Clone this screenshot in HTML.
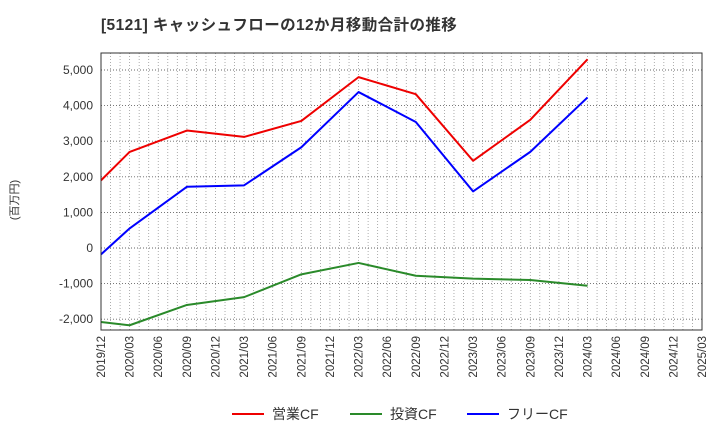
<!DOCTYPE html>
<html><head><meta charset="utf-8"><style>
body{margin:0;background:#fff;}
svg text{font-family:"Liberation Sans","Noto Sans CJK JP",sans-serif;}
</style></head><body>
<svg width="720" height="440" xmlns="http://www.w3.org/2000/svg">
<text x="101" y="30" font-size="15.5" font-weight="bold" fill="#333" letter-spacing="0.4">[5121]  キャッシュフローの12か月移動合計の推移</text>
<text transform="translate(18,200) rotate(-90)" font-size="11" fill="#333" text-anchor="middle">(百万円)</text>
<g id="grid"></g>
<g id="axes"></g>
<g id="series"></g>
<rect x="101" y="53" width="601" height="277" fill="none" stroke="#333" stroke-width="1"/>
<g>
<g><line x1="232" y1="414" x2="264" y2="414" stroke="#e00" stroke-width="2"/><text x="272" y="419" font-size="14" fill="#333">営業CF</text></g>
<g><line x1="350" y1="414" x2="382" y2="414" stroke="#2a8a2a" stroke-width="2"/><text x="390" y="419" font-size="14" fill="#333">投資CF</text></g>
<g><line x1="467" y1="414" x2="499" y2="414" stroke="#00f" stroke-width="2"/><text x="507" y="419" font-size="14" fill="#333">フリーCF</text></g>
</g>
</svg>
<script>
const xLabels=["2019/12","2020/03","2020/06","2020/09","2020/12","2021/03","2021/06","2021/09","2021/12","2022/03","2022/06","2022/09","2022/12","2023/03","2023/06","2023/09","2023/12","2024/03","2024/06","2024/09","2024/12","2025/03"];
const yTicks=[-2000,-1000,0,1000,2000,3000,4000,5000];
const pointIdx=[0,1,3,5,7,9,11,13,15,17];
const operatingCF=[1900,2700,3300,3120,3570,4800,4320,2450,3600,5300];
const investingCF=[-2080,-2170,-1600,-1380,-740,-420,-780,-860,-900,-1060];
const freeCF=[-180,550,1720,1760,2830,4380,3540,1590,2700,4230];

const NS="http://www.w3.org/2000/svg";
const L=101,R=702,T=53,B=330;
const xs=i=>L+(R-L)*i/21;
const ys=v=>248-v*0.0356;
function mk(tag,attrs,parent){const e=document.createElementNS(NS,tag);for(const k in attrs)e.setAttribute(k,attrs[k]);parent.appendChild(e);return e;}
const grid=document.getElementById('grid'),axes=document.getElementById('axes'),series=document.getElementById('series');
for(let m=1;m<63;m++){const x=L+(R-L)*m/63;
const ln=mk('line',{x1:x,y1:T,x2:x,y2:B,stroke:'#999','stroke-width':0.8,'stroke-dasharray':'1,2'},grid);

}
yTicks.forEach(v=>{const y=ys(v);
const ln=mk('line',{x1:L,y1:y,x2:R,y2:y,stroke:'#666','stroke-width':0.9,'stroke-dasharray':'1,2'},grid);


const t=mk('text',{x:L-8,y:y+4,'font-size':12,fill:'#333','text-anchor':'end'},axes);
t.textContent=v.toLocaleString('en-US');

});
xLabels.forEach((s,i)=>{const x=xs(i);
const t=mk('text',{transform:`translate(${x+4},${B+6}) rotate(-90)`,'font-size':11.5,fill:'#333','text-anchor':'end'},axes);
t.textContent=s;

});
function line(data,color,name){const pts=data.map((v,k)=>xs(pointIdx[k])+','+ys(v)).join(' ');
const p=mk('polyline',{points:pts,fill:'none',stroke:color,'stroke-width':2,'stroke-linejoin':'round'},series);

}
line(operatingCF,'#e00','operating-cf-line');
line(investingCF,'#2a8a2a','investing-cf-line');
line(freeCF,'#00f','free-cf-line');
</script>
</body></html>
